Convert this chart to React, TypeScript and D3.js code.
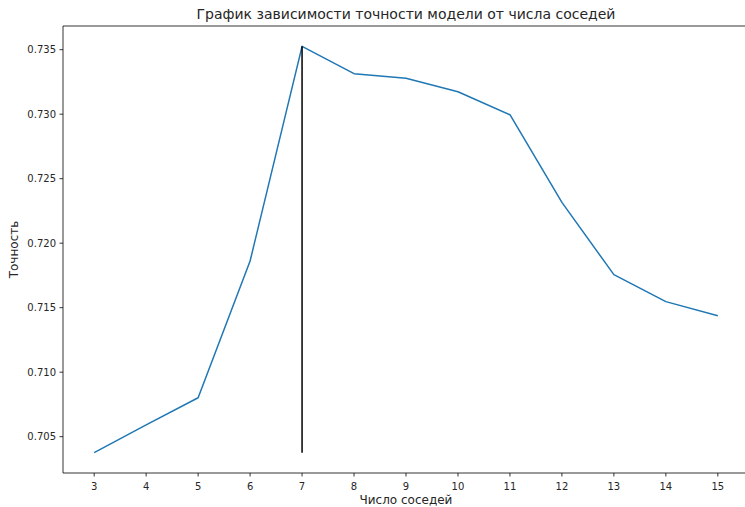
import React, { useEffect, useRef } from "react";
import * as d3 from "d3";

const neighbors = [3, 4, 5, 6, 7, 8, 9, 10, 11, 12, 13, 14, 15];
const accuracy = [0.70376, 0.70591, 0.70802, 0.71862, 0.73526, 0.73314, 0.73278, 0.73174, 0.72996, 0.72316, 0.71756, 0.71547, 0.71438];
const yTicks = [0.705, 0.71, 0.715, 0.72, 0.725, 0.73, 0.735];
const titleText = "График зависимости точности модели от числа соседей";
const xLabel = "Число соседей";
const yLabel = "Точность";

export default function App() {
  const ref = useRef<SVGSVGElement>(null);
  useEffect(() => {
    const svg = d3.select(ref.current);
    svg.selectAll("*").remove();
    const W = 745, H = 507;
    const left = 63, right = 749, top = 26, bottom = 473;
    const font = "DejaVu Sans, sans-serif";

    const xmin = d3.min(neighbors)!, xmax = d3.max(neighbors)!;
    const xm = (xmax - xmin) * 0.05;
    const ymin = d3.min(accuracy)!, ymax = d3.max(accuracy)!;
    const ym = (ymax - ymin) * 0.05;
    const x = d3.scaleLinear().domain([xmin - xm, xmax + xm]).range([left, right]);
    const y = d3.scaleLinear().domain([ymin - ym, ymax + ym]).range([bottom, top]);

    svg.append("rect").attr("width", W).attr("height", H).attr("fill", "white");

    // line
    const line = d3.line<number>().x((_, i) => x(neighbors[i])).y((d) => y(d));
    svg.append("path").datum(accuracy).attr("d", line).attr("fill", "none")
      .attr("stroke", "#1f77b4").attr("stroke-width", 1.5).attr("stroke-linejoin", "round");

    // vertical line at best k
    const bestIdx = d3.maxIndex(accuracy);
    svg.append("line")
      .attr("x1", x(neighbors[bestIdx])).attr("x2", x(neighbors[bestIdx]))
      .attr("y1", y(ymin)).attr("y2", y(ymax))
      .attr("stroke", "black").attr("stroke-width", 1.5);

    // spines
    const sp = svg.append("g").attr("stroke", "black").attr("stroke-width", 0.8);
    sp.append("line").attr("x1", left).attr("x2", left).attr("y1", top).attr("y2", bottom);
    sp.append("line").attr("x1", left).attr("x2", right).attr("y1", bottom).attr("y2", bottom);
    sp.append("line").attr("x1", left).attr("x2", right).attr("y1", top).attr("y2", top);
    sp.append("line").attr("x1", right).attr("x2", right).attr("y1", top).attr("y2", bottom);

    // x ticks
    const xg = svg.append("g");
    neighbors.forEach((t) => {
      xg.append("line").attr("x1", x(t)).attr("x2", x(t)).attr("y1", bottom).attr("y2", bottom + 3.5)
        .attr("stroke", "black").attr("stroke-width", 0.8);
      xg.append("text").attr("x", x(t)).attr("y", bottom + 17).attr("text-anchor", "middle")
        .attr("font-family", font).attr("font-size", 10).attr("fill", "#262626").text(String(t));
    });
    // y ticks
    const yg = svg.append("g");
    yTicks.forEach((t) => {
      yg.append("line").attr("x1", left - 3.5).attr("x2", left).attr("y1", y(t)).attr("y2", y(t))
        .attr("stroke", "black").attr("stroke-width", 0.8);
      yg.append("text").attr("x", left - 7).attr("y", y(t)).attr("dy", "0.35em").attr("text-anchor", "end")
        .attr("font-family", font).attr("font-size", 10).attr("fill", "#262626").text(d3.format(".3f")(t));
    });

    svg.append("text").attr("x", (left + right) / 2).attr("y", 19).attr("text-anchor", "middle")
      .attr("font-family", font).attr("font-size", 14).attr("fill", "#262626").text(titleText);
    svg.append("text").attr("x", (left + right) / 2).attr("y", 504).attr("text-anchor", "middle")
      .attr("font-family", font).attr("font-size", 12).attr("fill", "#262626").text(xLabel);
    svg.append("text").attr("transform", `translate(18,${(top + bottom) / 2}) rotate(-90)`)
      .attr("text-anchor", "middle")
      .attr("font-family", font).attr("font-size", 12).attr("fill", "#262626").text(yLabel);
  }, []);
  return (
    <div style={{ position: "absolute", left: 0, top: 0 }}>
      <svg ref={ref} width={745} height={507} style={{ display: "block" }} />
    </div>
  );
}
